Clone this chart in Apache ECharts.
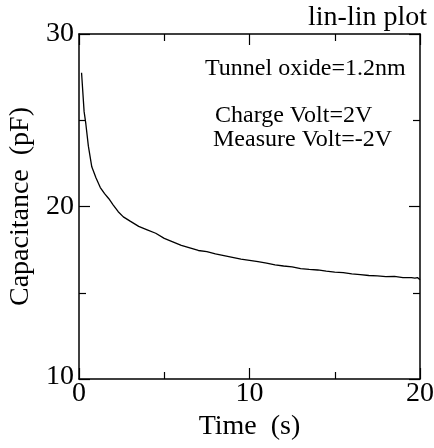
<!DOCTYPE html>
<html>
<head>
<meta charset="utf-8">
<script src="https://cdn.jsdelivr.net/npm/echarts@6/dist/echarts.min.js"></script>
<style>
  html, body { margin: 0; padding: 0; background: #fff; }
  #chart { width: 434px; height: 448px; }
</style>
</head>
<body>
<div id="chart"></div>
<script>
// time (s)
const timeS = [0.15, 0.3, 0.4, 0.55, 0.75, 1.0, 1.25, 1.5, 1.75, 2.0, 2.3, 2.6, 3.0, 3.5, 4.0, 4.5,
  5.0, 5.5, 6.0, 6.5, 7.0, 7.5, 8.0, 8.5, 9.0, 9.5, 10, 10.5, 11, 11.5, 12, 12.5, 13, 13.5,
  14, 14.5, 15, 15.5, 16, 16.5, 17, 17.5, 18, 18.5, 19, 19.5, 19.7, 19.85, 20]
// capacitance (pF)
const capPF = [27.75, 25.5, 24.8, 23.5, 22.3, 21.65, 21.1, 20.75, 20.45, 20.1, 19.7, 19.4, 19.15, 18.85, 18.65, 18.45,
  18.15, 17.95, 17.75, 17.6, 17.45, 17.38, 17.25, 17.15, 17.05, 16.95, 16.88, 16.8, 16.72, 16.62, 16.55, 16.5, 16.4, 16.35,
  16.32, 16.25, 16.2, 16.17, 16.1, 16.05, 16.0, 15.98, 15.93, 15.95, 15.88, 15.88, 15.85, 15.88, 15.75]

const font = 'Liberation Serif'
const line = { show: true, onZero: false, lineStyle: { color: '#000', width: 1.5 } }
const tick = { show: true, inside: true, length: 11, lineStyle: { color: '#000', width: 1.2 } }
const minor = { show: true, splitNumber: 2, length: 7, lineStyle: { color: '#000', width: 1.2 } }

let chart = echarts.init(document.getElementById('chart'))
chart.setOption({
  animation: false,
  grid: { left: 79, right: 14, top: 34, bottom: 69, containLabel: false, outerBoundsMode: 'none' },
  xAxis: [
    {
      type: 'value', min: 0, max: 20, interval: 10,
      axisLine: line, axisTick: tick, minorTick: minor, splitLine: { show: false },
      axisLabel: { fontFamily: font, fontSize: 28, color: '#000', margin: 1 },
      name: 'Time  (s)', nameLocation: 'middle', nameGap: 28,
      nameTextStyle: { fontFamily: font, fontSize: 28, color: '#000' }
    },
    {
      type: 'value', min: 0, max: 20, interval: 10, position: 'top',
      axisLine: line, axisTick: tick, minorTick: minor, splitLine: { show: false },
      axisLabel: { show: false }
    }
  ],
  yAxis: [
    {
      type: 'value', min: 10, max: 30, interval: 10,
      axisLine: line, axisTick: tick, minorTick: minor, splitLine: { show: false },
      axisLabel: {
        fontFamily: font, fontSize: 28, color: '#000', margin: 5,
        formatter: v => v === 10 ? '{a|10}\n{b|}' : '{a|' + v + '}',
        rich: { a: { fontFamily: font, fontSize: 28, color: '#000' }, b: { lineHeight: 4 } }
      },
      name: 'Capacitance  (pF)', nameLocation: 'middle', nameGap: 44,
      nameTextStyle: { fontFamily: font, fontSize: 28, color: '#000' }
    },
    {
      type: 'value', min: 10, max: 30, interval: 10, position: 'right',
      axisLine: line, axisTick: tick, minorTick: minor, splitLine: { show: false },
      axisLabel: { show: false }
    }
  ],
  graphic: [
    { type: 'text', right: 7, top: 4, style: { text: 'lin-lin plot', fontFamily: font, fontSize: 28, fill: '#000' } },
    { type: 'text', left: 205, top: 57, style: { text: 'Tunnel oxide=1.2nm', fontFamily: font, fontSize: 24, fill: '#000' } },
    { type: 'text', left: 215, top: 104, style: { text: 'Charge Volt=2V', fontFamily: font, fontSize: 24, fill: '#000' } },
    { type: 'text', left: 213, top: 128, style: { text: 'Measure Volt=-2V', fontFamily: font, fontSize: 24, fill: '#000' } }
  ],
  series: [
    {
      type: 'line',
      data: timeS.map((t, i) => [t, capPF[i]]),
      showSymbol: false,
      lineStyle: { color: '#000', width: 1.3 }
    }
  ]
})
</script>
</body>
</html>
